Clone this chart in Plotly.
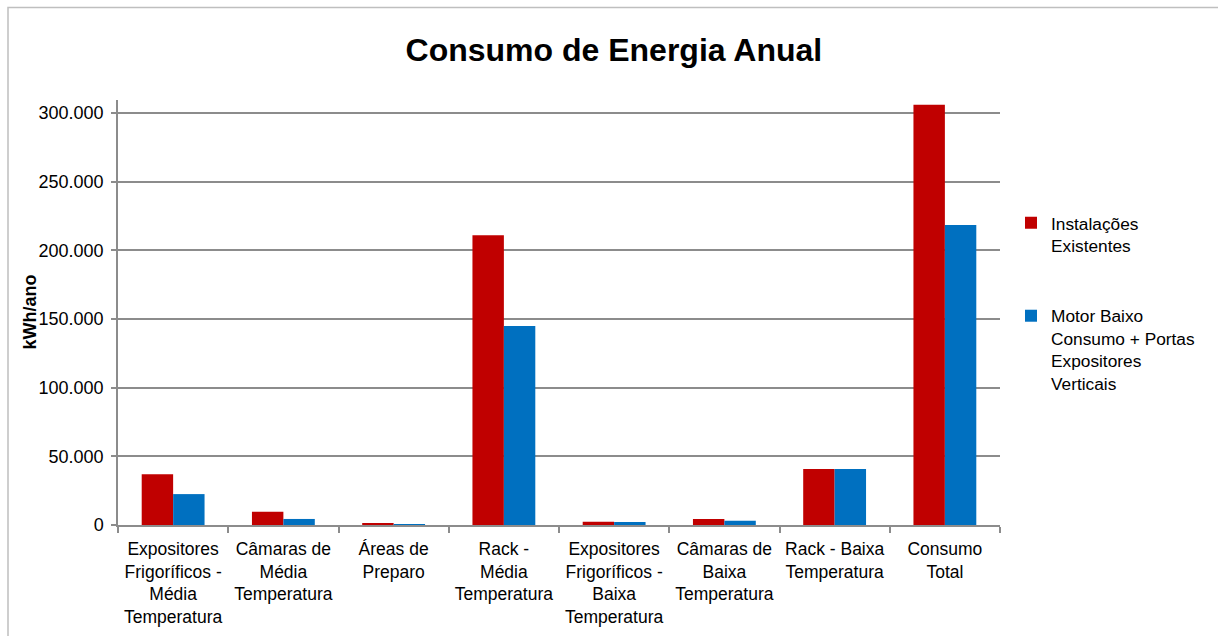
import plotly.graph_objects as go

categories = [
    "Expositores<br>Frigoríficos -<br>Média<br>Temperatura",
    "Câmaras de<br>Média<br>Temperatura",
    "Áreas de<br>Preparo",
    "Rack -<br>Média<br>Temperatura",
    "Expositores<br>Frigoríficos -<br>Baixa<br>Temperatura",
    "Câmaras de<br>Baixa<br>Temperatura",
    "Rack - Baixa<br>Temperatura",
    "Consumo<br>Total",
]
existentes = [37000, 9700, 800, 211000, 2400, 4400, 40800, 306000]
motor_baixo = [22500, 4400, 500, 145000, 2200, 3100, 40800, 218500]

series_names = ["Instalações<br>Existentes", "Motor Baixo<br>Consumo + Portas<br>Expositores<br>Verticais"]
colors = ["#C00000", "#0070C0"]

W, H = 1218, 636
L, R, T, B = 118, 1000, 100, 525
pw, ph = R - L, B - T

def px(x):
    return (x - L) / pw

def py(y):
    return (B - y) / ph

fig = go.Figure()
for name, vals, col, grp in zip(series_names, [existentes, motor_baixo], colors, ["a", "b"]):
    fig.add_trace(go.Bar(x=categories, y=vals, name=name, marker_color=col,
                         marker_line_width=0, legendgroup=grp))

font = "Liberation Sans, Arial, sans-serif"
fig.update_layout(
    width=W, height=H,
    margin=dict(l=L, r=W - R, t=T, b=H - B, autoexpand=False),
    paper_bgcolor="white", plot_bgcolor="white",
    separators=",.",
    font=dict(family=font, size=18, color="#000000"),
    barmode="group", bargap=0.43, bargroupgap=0,
    title=dict(text="<b>Consumo de Energia Anual</b>", x=0.504, xref="container",
               xanchor="center", y=1 - 50 / H, yanchor="middle",
               font=dict(size=32, family=font, color="#000000")),
    xaxis=dict(showgrid=False, showline=True, linecolor="#8c8c8c", linewidth=1.5,
               ticks="outside", tickson="boundaries", ticklen=6, tickcolor="#8c8c8c",
               tickwidth=1.5, tickfont=dict(size=17.5), ticklabelstandoff=7,
               fixedrange=True),
    yaxis=dict(range=[0, 309500], tickvals=[0, 50000, 100000, 150000, 200000, 250000, 300000],
               tickformat=",d", showgrid=True, gridcolor="#8c8c8c", gridwidth=1.5,
               showline=True, linecolor="#8c8c8c", linewidth=1.5, ticks="outside",
               ticklen=5, tickcolor="#8c8c8c", tickwidth=1.5, zeroline=False,
               tickfont=dict(size=18), ticklabelstandoff=4),
    legend=dict(x=px(1011), y=py(205), xanchor="left", yanchor="top",
                traceorder="grouped", tracegroupgap=45, font=dict(size=17.3),
                itemwidth=30, valign="top", bgcolor="rgba(0,0,0,0)"),
    annotations=[dict(text="<b>kWh/ano</b>", xref="paper", yref="paper",
                      x=px(29), y=0.5, xanchor="center", yanchor="middle",
                      textangle=-90, showarrow=False, font=dict(size=18))],
    shapes=[dict(type="rect", xref="paper", yref="paper",
                 x0=px(8), x1=px(1240), y0=py(660), y1=py(7.5),
                 line=dict(color="#bfbfbf", width=1.5), layer="below")],
)

fig.write_html("out.html")
